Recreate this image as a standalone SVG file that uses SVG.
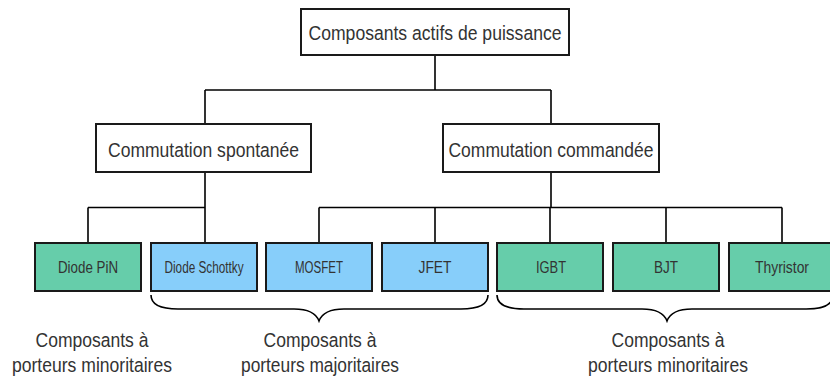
<svg xmlns="http://www.w3.org/2000/svg" width="830" height="381" viewBox="0 0 830 381">
<style>
.box{stroke:#1a1a1a;stroke-width:2}
.w{fill:#ffffff}
.g{fill:#66cdaa}
.b{fill:#87cefa}
text{font-family:"Liberation Sans",Arial,sans-serif;fill:#333333;text-anchor:middle}
.t1{font-size:20.5px}
.t3{font-size:16px}
.lab{font-size:20.5px}
.c{fill:none;stroke:#000000;stroke-width:1.6}
.br{fill:none;stroke:#000000;stroke-width:1.6}
</style>
<rect width="830" height="381" fill="#ffffff"/>
<g id="connectors">
<path class="c" d="M435,55 V90 M205,90 H551 M205,90 V124 M551,90 V124"/>
<path class="c" d="M205,172 V207.5 M88,207.5 H205 M88,207.5 V243 M205,207.5 V243"/>
<path class="c" d="M551,172 V207.5 M319,207.5 H782 M319,207.5 V243 M435,207.5 V243 M550,207.5 V243 M666,207.5 V243 M782,207.5 V243"/>
</g>
<g id="root"><rect class="box w" x="301" y="9" width="268" height="46"/><text class="t1" x="435" y="39.5" textLength="253" lengthAdjust="spacingAndGlyphs">Composants actifs de puissance</text></g>
<g id="spontanee"><rect class="box w" x="96" y="124" width="215" height="48"/><text class="t1" x="203.5" y="157" textLength="191" lengthAdjust="spacingAndGlyphs">Commutation spontanée</text></g>
<g id="commandee"><rect class="box w" x="443" y="124" width="216" height="48"/><text class="t1" x="551" y="157" textLength="205" lengthAdjust="spacingAndGlyphs">Commutation commandée</text></g>
<g id="pin"><rect class="box g" x="35" y="243" width="106" height="48"/><text class="t3" x="88" y="273" textLength="60" lengthAdjust="spacingAndGlyphs">Diode PiN</text></g>
<g id="schottky"><rect class="box b" x="151" y="243" width="106" height="48"/><text class="t3" x="204" y="273" textLength="79" lengthAdjust="spacingAndGlyphs">Diode Schottky</text></g>
<g id="mosfet"><rect class="box b" x="266" y="243" width="106" height="48"/><text class="t3" x="319" y="273" textLength="48" lengthAdjust="spacingAndGlyphs">MOSFET</text></g>
<g id="jfet"><rect class="box b" x="382" y="243" width="106" height="48"/><text class="t3" x="435" y="273" textLength="33" lengthAdjust="spacingAndGlyphs">JFET</text></g>
<g id="igbt"><rect class="box g" x="497" y="243" width="106" height="48"/><text class="t3" x="551" y="273" textLength="30" lengthAdjust="spacingAndGlyphs">IGBT</text></g>
<g id="bjt"><rect class="box g" x="613" y="243" width="106" height="48"/><text class="t3" x="666" y="273" textLength="24" lengthAdjust="spacingAndGlyphs">BJT</text></g>
<g id="thyristor"><rect class="box g" x="729" y="243" width="106" height="48"/><text class="t3" x="782" y="273" textLength="54" lengthAdjust="spacingAndGlyphs">Thyristor</text></g>
<g id="braces">
<path class="br" d="M151,295 C151,305 160,309 178,309 L294,309 C308,309 316,313 319,321 C322,313 330,309 344,309 L461,309 C479,309 488,305 488,295"/>
<path class="br" d="M497,295 C497,305 506,309 524,309 L642,309 C656,309 664,313 667,321 C670,313 678,309 692,309 L806,309 C824,309 833,305 833,295"/>
</g>
<g id="labels">
<text class="lab" x="92" y="347" textLength="113" lengthAdjust="spacingAndGlyphs">Composants à</text>
<text class="lab" x="92" y="372" textLength="160" lengthAdjust="spacingAndGlyphs">porteurs minoritaires</text>
<text class="lab" x="320" y="347" textLength="113" lengthAdjust="spacingAndGlyphs">Composants à</text>
<text class="lab" x="320" y="372" textLength="158" lengthAdjust="spacingAndGlyphs">porteurs majoritaires</text>
<text class="lab" x="668" y="347" textLength="113" lengthAdjust="spacingAndGlyphs">Composants à</text>
<text class="lab" x="668" y="372" textLength="160" lengthAdjust="spacingAndGlyphs">porteurs minoritaires</text>
</g>
</svg>
